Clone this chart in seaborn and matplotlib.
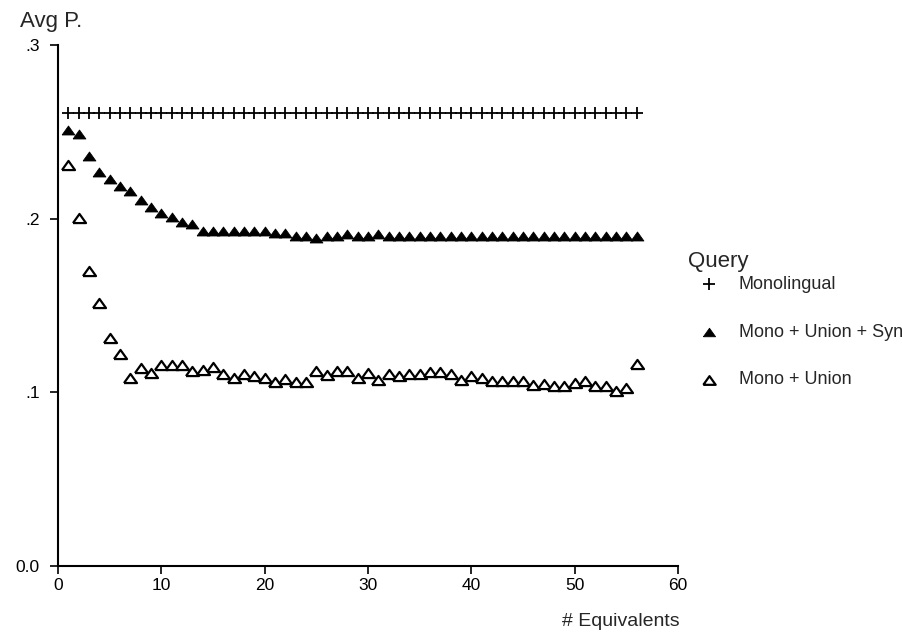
import matplotlib
matplotlib.use('Agg')
import matplotlib.pyplot as plt
import seaborn as sns
import pandas as pd

# values
equivalents = list(range(1, 57))

monolingual = [0.261, 0.261, 0.261, 0.261, 0.261, 0.261, 0.261, 0.261, 0.261, 0.261, 0.261, 0.261, 0.261, 0.261,
               0.261, 0.261, 0.261, 0.261, 0.261, 0.261, 0.261, 0.261, 0.261, 0.261, 0.261, 0.261, 0.261, 0.261,
               0.261, 0.261, 0.261, 0.261, 0.261, 0.261, 0.261, 0.261, 0.261, 0.261, 0.261, 0.261, 0.261, 0.261,
               0.261, 0.261, 0.261, 0.261, 0.261, 0.261, 0.261, 0.261, 0.261, 0.261, 0.261, 0.261, 0.261, 0.261]

union_syn = [0.251, 0.249, 0.236, 0.227, 0.223, 0.219, 0.216, 0.211, 0.207, 0.203, 0.201, 0.198, 0.197, 0.193,
             0.193, 0.193, 0.193, 0.193, 0.193, 0.193, 0.192, 0.192, 0.190, 0.190, 0.189, 0.190, 0.190, 0.191,
             0.190, 0.190, 0.191, 0.190, 0.190, 0.190, 0.190, 0.190, 0.190, 0.190, 0.190, 0.190, 0.190, 0.190,
             0.190, 0.190, 0.190, 0.190, 0.190, 0.190, 0.190, 0.190, 0.190, 0.190, 0.190, 0.190, 0.190, 0.190]

union = [0.231, 0.2005, 0.170, 0.1515, 0.131, 0.122, 0.108, 0.114, 0.111, 0.1155, 0.1155, 0.116, 0.1125, 0.113,
         0.1145, 0.1105, 0.108, 0.1105, 0.1095, 0.1085, 0.106, 0.1075, 0.106, 0.106, 0.1125, 0.110, 0.1125, 0.1125,
         0.108, 0.111, 0.107, 0.1105, 0.1095, 0.1105, 0.1105, 0.1115, 0.1115, 0.1105, 0.107, 0.1095, 0.108, 0.1065,
         0.1065, 0.1065, 0.1065, 0.104, 0.105, 0.1035, 0.1035, 0.1055, 0.1065, 0.1035, 0.1035, 0.1005, 0.1025, 0.1165]

series_names = ['Monolingual', 'Mono + Union + Syn', 'Mono + Union']

df = pd.DataFrame({
    'Equivalents': equivalents * 3,
    'AvgP': monolingual + union_syn + union,
    'Query': [n for n in series_names for _ in equivalents],
})

sns.set_style('ticks')
plt.rcParams['font.family'] = ['Liberation Sans', 'DejaVu Sans']

fig = plt.figure(figsize=(9.02, 6.37), dpi=100)
ax = fig.add_axes([58 / 902, 1 - 566 / 637, 620 / 902, 521 / 637])

# wide, flat triangle like the reference glyphs
tri = [(-1, -0.7), (1, -0.7), (0, 0.7), (-1, -0.7)]

styles = {
    'Monolingual': dict(marker='+', s=80, color='black', linewidth=1.3),
    'Mono + Union + Syn': dict(marker=tri, s=85, color='black', edgecolor='black', linewidth=0.6),
    'Mono + Union': dict(marker=tri, s=88, facecolor='white', edgecolor='black', linewidth=1.6),
}

for name in series_names:
    sub = df[df['Query'] == name]
    sns.scatterplot(data=sub, x='Equivalents', y='AvgP', ax=ax, label=name, zorder=3,
                    **styles[name])

ax.set_xlim(0, 60)
ax.set_ylim(0, 0.3)
ax.set_xticks([0, 10, 20, 30, 40, 50, 60])
ax.set_yticks([0, 0.1, 0.2, 0.3])
ax.set_yticklabels(['0.0', '.1', '.2', '.3'])
ax.tick_params(axis='both', direction='out', length=6, width=1.2, labelsize=12.5, colors='black')
ax.tick_params(axis='x', pad=3)
ax.tick_params(axis='y', pad=7)
for side in ['left', 'bottom']:
    ax.spines[side].set_linewidth(1.5)
    ax.spines[side].set_color('black')
sns.despine(ax=ax)

ax.set_xlabel('# Equivalents', fontsize=14, loc='right', va='center')
ax.xaxis.set_label_coords(1.003, -(622 - 566) / 521)
ax.set_ylabel('')
fig.text(20 / 902, 1 - 21 / 637, 'Avg P.', fontsize=16, ha='left', va='center')

fig.text(688 / 902, 1 - 262 / 637, 'Query', fontsize=16, ha='left', va='center')
leg = ax.legend(loc='upper left', bbox_to_anchor=(691 / 902, 1 - 267 / 637),
                bbox_transform=fig.transFigure, frameon=False, fontsize=13,
                labelspacing=1.7, handletextpad=1.15, handlelength=1.0, borderpad=0,
                markerscale=0.95)

fig.savefig('out.png', dpi=100)
